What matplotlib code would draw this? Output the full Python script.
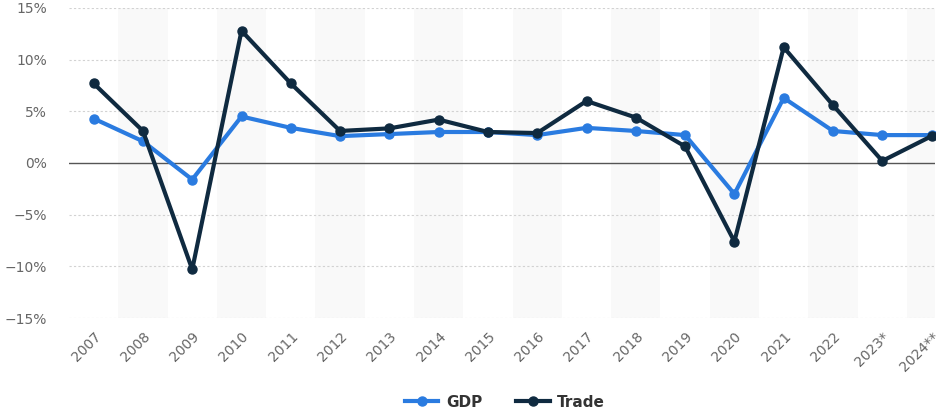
import matplotlib
matplotlib.use("Agg")
import matplotlib.pyplot as plt
from matplotlib.ticker import FuncFormatter

years = ["2007", "2008", "2009", "2010", "2011", "2012", "2013", "2014", "2015",
         "2016", "2017", "2018", "2019", "2020", "2021", "2022", "2023*", "2024**"]
gdp = [4.3, 2.1, -1.6, 4.5, 3.4, 2.6, 2.8, 3.0, 3.0, 2.7, 3.4, 3.1, 2.7, -3.0,
       6.3, 3.1, 2.7, 2.7]
trade = [7.7, 3.1, -10.3, 12.8, 7.7, 3.1, 3.35, 4.2, 3.0, 2.9, 6.0, 4.4, 1.6,
         -7.6, 11.2, 5.6, 0.2, 2.6]
yticks = [-15, -10, -5, 0, 5, 10, 15]

GDP_COLOR = "#2a7be0"
TRADE_COLOR = "#0f2a40"

W, H = 937, 415
fig = plt.figure(figsize=(W / 100, H / 100), dpi=100)
ax = fig.add_axes([69 / W, 1 - 318 / H, (935 - 69) / W, (318 - 8) / H])

x = list(range(len(years)))

# alternating column shading
for i in x:
    if i % 2 == 1:
        ax.axvspan(i - 0.5, i + 0.5, color="#f9f9f9", zorder=0, lw=0)

for v in yticks:
    if v != 0:
        ax.axhline(v, color="#d2d2d2", lw=0.8, ls=(0, (2, 2)), zorder=1)
ax.axhline(0, color="#555555", lw=1.0, zorder=1)

ax.plot(x, gdp, color=GDP_COLOR, lw=3, marker="o", ms=6.5, zorder=3,
        solid_joinstyle="round", label="GDP")
ax.plot(x, trade, color=TRADE_COLOR, lw=3, marker="o", ms=6.5, zorder=4,
        solid_joinstyle="round", label="Trade")

ax.set_xlim(-0.5, 17.07)
ax.set_ylim(-15, 15)
ax.set_yticks(yticks)
ax.yaxis.set_major_formatter(FuncFormatter(lambda v, p: f"{int(v)}%".replace("-", "\u2212")))
ax.set_xticks(x)
ax.set_xticklabels(years, rotation=45, ha="right", rotation_mode="anchor")
ax.tick_params(axis="both", length=0, labelsize=10, labelcolor="#666666")
ax.tick_params(axis="y", pad=16)
ax.tick_params(axis="x", pad=8)
for s in ax.spines.values():
    s.set_visible(False)

leg = fig.legend(loc="center", bbox_to_anchor=(505 / W, 1 - 402 / H), ncol=2,
                 frameon=False, fontsize=11, handlelength=2.2, columnspacing=2.2,
                 handletextpad=0.5)
for t in leg.get_texts():
    t.set_fontweight("bold")
    t.set_color("#333333")

fig.savefig("out.png", dpi=100)
